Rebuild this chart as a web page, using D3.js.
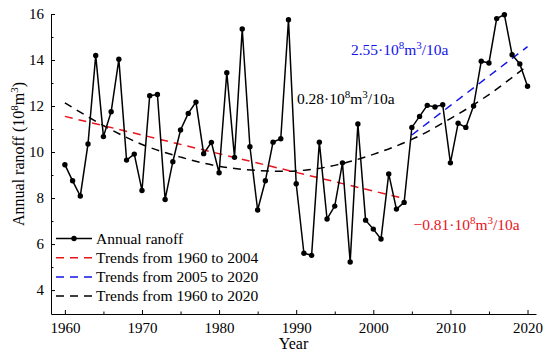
<!DOCTYPE html>
<html>
<head>
<meta charset="utf-8">
<script src="https://cdn.jsdelivr.net/npm/d3@7"></script>
<style>
  body { margin: 0; background: #fff; }
  svg { display: block; font-family: "Liberation Serif", "Times New Roman", serif; }
</style>
</head>
<body>
<div id="chart"></div>
<script>
const width = 550
    , height = 359
    ;

// data
const years = d3.range(1960, 2021);
const runoff = [
  9.45, 8.75, 8.09, 10.35, 14.2, 10.67, 11.75, 14.03, 9.65, 9.91,
  8.33, 12.45, 12.5, 7.94, 9.58, 10.96, 11.68, 12.17, 9.93, 10.42,
  9.1, 13.45, 9.77, 15.35, 10.23, 7.48, 8.75, 10.43, 10.58, 15.75,
  8.62, 5.6, 5.51, 10.43, 7.09, 7.65, 9.53, 5.22, 11.22, 7.04,
  6.65, 6.22, 9.05, 7.52, 7.81, 11.07, 11.55, 12.03, 11.96, 12.06,
  9.53, 11.25, 11.07, 12.0, 13.95, 13.87, 15.8, 15.97, 14.23, 13.83,
  12.86
];
const trendEarlyYears = [1960, 2004];
const trendEarly = [11.55, 7.98];
const trendLateYears = [2005, 2020];
const trendLate = [10.74, 14.58];
const trendAllYears = [1960, 1965, 1970, 1975, 1980, 1985, 1990, 1995, 2000, 2005, 2010, 2015, 2020];
const trendAll = [12.14, 11.15, 10.33, 9.78, 9.38, 9.2, 9.18, 9.42, 9.9, 10.55, 11.45, 12.5, 13.76];
const xTicks = [1960, 1970, 1980, 1990, 2000, 2010, 2020];
const yTicks = [4, 6, 8, 10, 12, 14, 16];
const legendNames = ['Annual ranoff', 'Trends from 1960 to 2004', 'Trends from 2005 to 2020', 'Trends from 1960 to 2020'];
const legendColors = ['#000', '#e8141c', '#1414e8', '#000'];
const dash = '8,6';

const x = d3.scaleLinear().domain([1958.2, 2021.1]).range([51, 536]);
const y = d3.scaleLinear().domain([2.96, 16]).range([314, 14]);

const svg = d3.select('#chart').append('svg')
  .attr('width', width)
  .attr('height', height);

// axes (ticks point inward)
svg.append('g')
  .attr('transform', `translate(0,${y.range()[0]})`)
  .call(d3.axisBottom(x).tickValues(xTicks).tickFormat(d3.format('d')).tickSize(-4).tickSizeOuter(0).tickPadding(8));
svg.append('g')
  .attr('transform', `translate(0,${y.range()[0]})`)
  .call(d3.axisBottom(x).tickValues(d3.range(1965, 2021, 10)).tickFormat('').tickSize(-2.5).tickSizeOuter(0))
  .select('.domain').remove();

svg.append('g')
  .attr('transform', `translate(${x.range()[0]},0)`)
  .call(d3.axisLeft(y).tickValues(yTicks).tickSize(-4).tickSizeOuter(0).tickPadding(7));
svg.append('g')
  .attr('transform', `translate(${x.range()[0]},0)`)
  .call(d3.axisLeft(y).tickValues([5, 7, 9, 11, 13, 15]).tickFormat('').tickSize(-2.5).tickSizeOuter(0))
  .select('.domain').remove();

svg.selectAll('.tick text')
  .style('font-family', '"Liberation Serif", serif')
  .style('font-size', '15px')
  .attr('fill', '#000');
svg.selectAll('.domain, .tick line').attr('stroke', '#000');

// axis titles
svg.append('text')
  .attr('x', (x.range()[0] + x.range()[1]) / 2)
  .attr('y', 349)
  .attr('text-anchor', 'middle')
  .style('font-size', '16px')
  .text('Year');

const yTitle = svg.append('text')
  .attr('transform', `translate(24,${(y.range()[0] + y.range()[1]) / 2 - 10}) rotate(-90)`)
  .attr('text-anchor', 'middle')
  .style('font-size', '16px');
yTitle.append('tspan').text('Annual ranoff (10');
yTitle.append('tspan').attr('dy', -6).style('font-size', '11px').text('8');
yTitle.append('tspan').attr('dy', 6).text('m');
yTitle.append('tspan').attr('dy', -6).style('font-size', '11px').text('3');
yTitle.append('tspan').attr('dy', 6).text(')');

// trend lines
const line = d3.line().x(d => x(d[0])).y(d => y(d[1]));

svg.append('path')
  .datum(trendAllYears.map((yr, i) => [yr, trendAll[i]]))
  .attr('fill', 'none')
  .attr('stroke', legendColors[3])
  .attr('stroke-width', 1.5)
  .attr('stroke-dasharray', dash)
  .attr('d', line.curve(d3.curveCatmullRom));

svg.append('path')
  .datum(trendEarlyYears.map((yr, i) => [yr, trendEarly[i]]))
  .attr('fill', 'none')
  .attr('stroke', legendColors[1])
  .attr('stroke-width', 1.5)
  .attr('stroke-dasharray', dash)
  .attr('d', line.curve(d3.curveLinear));

svg.append('path')
  .datum(trendLateYears.map((yr, i) => [yr, trendLate[i]]))
  .attr('fill', 'none')
  .attr('stroke', legendColors[2])
  .attr('stroke-width', 1.5)
  .attr('stroke-dasharray', dash)
  .attr('d', line.curve(d3.curveLinear));

// annual runoff
const pts = years.map((yr, i) => [yr, runoff[i]]);
svg.append('path')
  .datum(pts)
  .attr('fill', 'none')
  .attr('stroke', '#000')
  .attr('stroke-width', 1.5)
  .attr('d', line.curve(d3.curveLinear));

svg.append('g')
  .selectAll('circle')
  .data(pts)
  .join('circle')
    .attr('cx', d => x(d[0]))
    .attr('cy', d => y(d[1]))
    .attr('r', 2.7)
    .attr('fill', '#000');

// rate annotations
function rateLabel(prefix, color, xv, yv) {
  const t = svg.append('text')
    .attr('x', x(xv))
    .attr('y', y(yv))
    .attr('fill', color)
    .style('font-size', '15.5px');
  t.append('tspan').text(prefix + '\u00b710');
  t.append('tspan').attr('dy', -6).style('font-size', '11px').text('8');
  t.append('tspan').attr('dy', 6).text('m');
  t.append('tspan').attr('dy', -6).style('font-size', '11px').text('3');
  t.append('tspan').attr('dy', 6).text('/10a');
}
rateLabel('2.55', '#1414e8', 1997.1, 14.22);
rateLabel('0.28', '#000', 1990.1, 12.09);
rateLabel('\u22120.81', '#e8141c', 2005.2, 6.6);

// legend
const legend = svg.append('g')
  .attr('transform', `translate(${x.range()[0] + 5},238.5)`);
const item = legend.selectAll('g')
  .data(legendNames)
  .join('g')
    .attr('transform', (d, i) => `translate(0,${i * 19.2})`);
item.append('line')
  .attr('x1', 0).attr('x2', 36)
  .attr('stroke', (d, i) => legendColors[i])
  .attr('stroke-width', 1.5)
  .attr('stroke-dasharray', (d, i) => i === 0 ? null : dash);
item.filter((d, i) => i === 0)
  .append('circle')
    .attr('cx', 18)
    .attr('r', 2.7)
    .attr('fill', '#000');
item.append('text')
  .attr('x', 40)
  .attr('dy', '0.33em')
  .style('font-size', '15.5px')
  .text(d => d);
</script>
</body>
</html>
